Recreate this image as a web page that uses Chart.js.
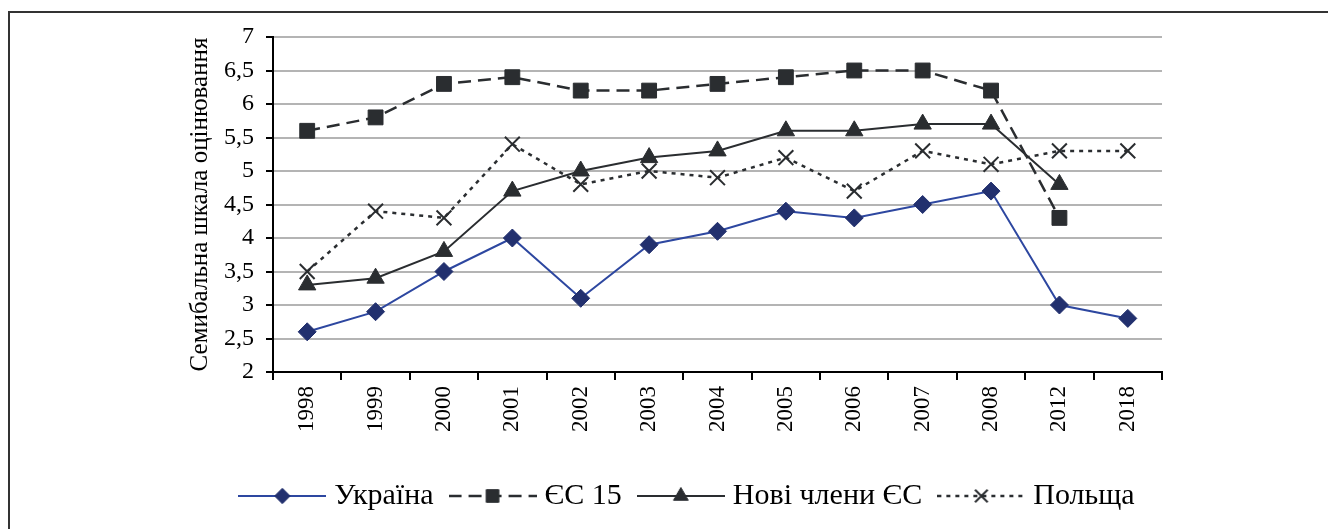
<!DOCTYPE html>
<html>
<head>
<meta charset="utf-8">
<script src="https://cdn.jsdelivr.net/npm/chart.js@4/dist/chart.umd.min.js"></script>
<style>
  html, body { margin: 0; padding: 0; background: #fff; overflow: hidden; }
  #wrap { position: relative; width: 1328px; height: 529px; }
  #frame { position: absolute; left: 8px; top: 11px; width: 1340px; height: 540px; border: 2px solid #333; box-sizing: border-box; }
  canvas { position: absolute; left: 0; top: 0; }
</style>
</head>
<body>
<div id="wrap">
  <div id="frame"></div>
  <canvas id="c" width="1328" height="529"></canvas>
</div>
<script>
const years = ['1998','1999','2000','2001','2002','2003','2004','2005','2006','2007','2008','2012','2018'];
const ukraine    = [2.6, 2.9, 3.5, 4.0, 3.1, 3.9, 4.1, 4.4, 4.3, 4.5, 4.7, 3.0, 2.8];
const eu15       = [5.6, 5.8, 6.3, 6.4, 6.2, 6.2, 6.3, 6.4, 6.5, 6.5, 6.2, 4.3, null];
const newMembers = [3.3, 3.4, 3.8, 4.7, 5.0, 5.2, 5.3, 5.6, 5.6, 5.7, 5.7, 4.8, null];
const poland     = [3.5, 4.4, 4.3, 5.4, 4.8, 5.0, 4.9, 5.2, 4.7, 5.3, 5.1, 5.3, 5.3];
const seriesNames = ['Україна', 'ЄС 15', 'Нові члени ЄС', 'Польща'];
const yTickLabels = ['2','2,5','3','3,5','4','4,5','5','5,5','6','6,5','7'];
const yTitle = 'Семибальна шкала оцінювання';

const FONT = "'Liberation Serif', 'Times New Roman', serif";
const DARK = '#2a2d30';

const datasets = [
  { label: seriesNames[0], data: ukraine, borderColor: '#2d47a0', backgroundColor: '#22306e',
    pointBorderColor: '#22306e', borderWidth: 2, pointStyle: 'rectRot', pointRadius: 9, pointHoverRadius: 9, borderDash: [] },
  { label: seriesNames[1], data: eu15, borderColor: DARK, backgroundColor: DARK,
    pointBorderColor: DARK, borderWidth: 2.5, pointStyle: 'rect', pointRadius: 10.5, pointHoverRadius: 10.5, borderDash: [13, 7] },
  { label: seriesNames[2], data: newMembers, borderColor: DARK, backgroundColor: DARK,
    pointBorderColor: DARK, borderWidth: 2, pointStyle: 'triangle', pointRadius: 10, pointHoverRadius: 10, borderDash: [] },
  { label: seriesNames[3], data: poland, borderColor: DARK, backgroundColor: DARK,
    pointBorderColor: DARK, borderWidth: 2.5, pointStyle: 'crossRot', pointRadius: 10.5, pointHoverRadius: 10.5, pointBorderWidth: 2, borderDash: [4, 5] }
];
datasets.forEach(d => { d.fill = false; d.tension = 0; d.spanGaps = false; d.clip = false; d.pointBorderWidth = d.pointBorderWidth || 1; });

const LEG_BOX = 74, LEG_W = 88, LEG_H = 28;
function legendImage(ds) {
  const cv = document.createElement('canvas');
  cv.width = LEG_W; cv.height = LEG_H;
  const ctx = cv.getContext('2d');
  ctx.strokeStyle = ds.borderColor;
  ctx.lineWidth = ds.borderWidth;
  ctx.setLineDash(ds.borderDash || []);
  ctx.beginPath(); ctx.moveTo(0, LEG_H / 2); ctx.lineTo(LEG_W, LEG_H / 2); ctx.stroke();
  ctx.setLineDash([]);
  ctx.fillStyle = ds.backgroundColor;
  ctx.strokeStyle = ds.pointBorderColor;
  ctx.lineWidth = ds.pointBorderWidth;
  const opts = { pointStyle: ds.pointStyle, radius: ds.pointRadius * 0.85, rotation: 0, borderWidth: ds.pointBorderWidth };
  Chart.helpers.drawPoint(ctx, opts, LEG_W / 2, LEG_H / 2);
  return cv;
}

new Chart(document.getElementById('c'), {
  type: 'line',
  data: { labels: years, datasets: datasets },
  options: {
    responsive: false,
    animation: false,
    devicePixelRatio: 1,
    layout: { padding: { left: 170, right: 118, top: 37, bottom: 8 } },
    plugins: {
      tooltip: { enabled: false },
      legend: {
        position: 'bottom',
        labels: {
          usePointStyle: true,
          pointStyleWidth: LEG_BOX,
          padding: 22,
          color: '#000',
          font: { family: FONT, size: 30 },
          generateLabels: (chart) => chart.data.datasets.map((ds, i) => ({
            text: ds.label, pointStyle: legendImage(ds), datasetIndex: i,
            fillStyle: ds.backgroundColor, strokeStyle: ds.borderColor, lineWidth: 0, hidden: false
          }))
        }
      }
    },
    scales: {
      x: {
        offset: true,
        grid: {
          offset: true,
          drawOnChartArea: true,
          color: (c) => (c.index === years.length ? '#b4b4b4' : 'rgba(0,0,0,0)'),
          lineWidth: 2,
          tickColor: '#000',
          tickLength: 8
        },
        border: { display: true, color: '#000', width: 2 },
        ticks: { color: '#000', font: { family: FONT, size: 23 }, minRotation: 90, maxRotation: 90, padding: 6, autoSkip: false },
        afterFit: (s) => { s.height = 87; }
      },
      y: {
        min: 2, max: 7,
        ticks: {
          stepSize: 0.5, color: '#000', padding: 12, autoSkip: false,
          font: { family: FONT, size: 24 },
          callback: (v) => yTickLabels[Math.round((v - 2) * 2)]
        },
        grid: { color: '#b4b4b4', lineWidth: 2, tickColor: '#000', tickLength: 7 },
        border: { display: true, color: '#000', width: 2 },
        title: { display: true, text: yTitle, color: '#000', font: { family: FONT, size: 25 }, padding: { top: 15, bottom: 0 } },
        afterFit: (s) => { s.width = 103; }
      },
      yRight: {
        position: 'right',
        min: 2, max: 7,
        ticks: { display: false },
        grid: { display: false, drawOnChartArea: false },
        border: { display: false },
        afterFit: (s) => { s.width = 48; }
      }
    }
  }
});
</script>
</body>
</html>
